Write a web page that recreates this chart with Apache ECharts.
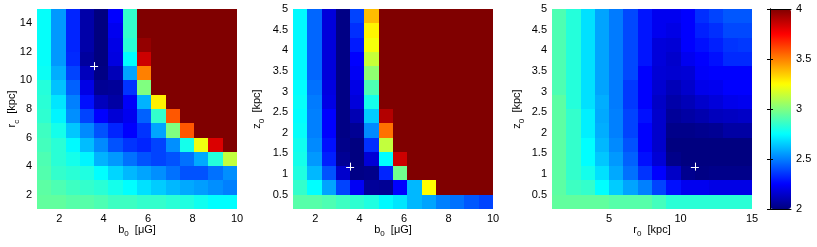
<!DOCTYPE html>
<html><head><meta charset="utf-8">
<script src="https://cdn.jsdelivr.net/npm/echarts@6/dist/echarts.min.js"></script>
<style>html,body{margin:0;padding:0;background:#fff}#c{width:817px;height:247px}</style>
</head><body><div id="c"></div>
<script>
// ---- cell centres (grid parameters) ----
const b0Centers = [1.321429, 1.964286, 2.607143, 3.250000, 3.892857, 4.535714, 5.178571, 5.821429, 6.464286, 7.107143, 7.750000, 8.392857, 9.035714, 9.678571];
const r0Centers = [1.5, 2.5, 3.5, 4.5, 5.5, 6.5, 7.5, 8.5, 9.5, 10.5, 11.5, 12.5, 13.5, 14.5];
// rows listed top to bottom
const rcCenters = [14.5, 13.5, 12.5, 11.5, 10.5, 9.5, 8.5, 7.5, 6.5, 5.5, 4.5, 3.5, 2.5, 1.5];
const z0Centers = [4.826923, 4.480769, 4.134615, 3.788462, 3.442308, 3.096154, 2.750000, 2.403846, 2.057692, 1.711538, 1.365385, 1.019231, 0.673077, 0.326923];

// ---- tick labels ----
const b0Ticks = [2, 4, 6, 8, 10];
const rcTicks = [2, 4, 6, 8, 10, 12, 14];
const z0Ticks = [0.5, 1, 1.5, 2, 2.5, 3, 3.5, 4, 4.5, 5];
const r0Ticks = [5, 10, 15];
const cbarTicks = [2, 2.5, 3, 3.5, 4];

// ---- values (rows top to bottom, columns left to right) ----
const valsB0Rc = [
  [2.76, 2.55, 2.32, 2.08, 2.00, 2.25, 2.85, 4, 4, 4, 4, 4, 4, 4],
  [2.76, 2.55, 2.32, 2.08, 2.00, 2.22, 2.85, 4, 4, 4, 4, 4, 4, 4],
  [2.76, 2.55, 2.32, 2.08, 2.00, 2.20, 2.83, 3.96, 4, 4, 4, 4, 4, 4],
  [2.76, 2.55, 2.33, 2.06, 2.00, 2.19, 2.75, 3.85, 4, 4, 4, 4, 4, 4],
  [2.77, 2.59, 2.38, 2.12, 2.01, 2.11, 2.57, 3.50, 4, 4, 4, 4, 4, 4],
  [2.82, 2.63, 2.44, 2.20, 2.04, 2.05, 2.35, 3.00, 4, 4, 4, 4, 4, 4],
  [2.83, 2.70, 2.50, 2.28, 2.12, 2.07, 2.24, 2.60, 3.28, 4, 4, 4, 4, 4],
  [2.84, 2.73, 2.53, 2.38, 2.25, 2.17, 2.22, 2.44, 2.85, 3.58, 4, 4, 4, 4],
  [2.87, 2.79, 2.64, 2.52, 2.41, 2.32, 2.25, 2.35, 2.57, 3.00, 3.58, 4, 4, 4],
  [2.88, 2.83, 2.74, 2.62, 2.52, 2.41, 2.35, 2.32, 2.38, 2.53, 2.79, 3.22, 3.82, 4],
  [2.90, 2.83, 2.79, 2.73, 2.60, 2.55, 2.47, 2.41, 2.38, 2.41, 2.47, 2.58, 2.82, 3.13],
  [2.91, 2.85, 2.83, 2.81, 2.75, 2.67, 2.61, 2.57, 2.53, 2.47, 2.41, 2.41, 2.47, 2.53],
  [2.93, 2.90, 2.87, 2.85, 2.83, 2.79, 2.75, 2.69, 2.65, 2.61, 2.58, 2.56, 2.53, 2.50],
  [2.94, 2.94, 2.92, 2.92, 2.90, 2.87, 2.87, 2.85, 2.85, 2.83, 2.81, 2.78, 2.75, 2.75]
];
const valsB0Z0 = [
  [2.74, 2.45, 2.18, 2.01, 2.38, 3.38, 4, 4, 4, 4, 4, 4, 4, 4],
  [2.74, 2.45, 2.18, 2.01, 2.34, 3.27, 4, 4, 4, 4, 4, 4, 4, 4],
  [2.74, 2.45, 2.18, 2.01, 2.30, 3.23, 4, 4, 4, 4, 4, 4, 4, 4],
  [2.74, 2.45, 2.18, 2.01, 2.25, 3.14, 4, 4, 4, 4, 4, 4, 4, 4],
  [2.74, 2.45, 2.18, 2.01, 2.23, 3.03, 4, 4, 4, 4, 4, 4, 4, 4],
  [2.75, 2.47, 2.19, 2.01, 2.20, 2.90, 4, 4, 4, 4, 4, 4, 4, 4],
  [2.76, 2.49, 2.20, 2.01, 2.18, 2.79, 4, 4, 4, 4, 4, 4, 4, 4],
  [2.75, 2.50, 2.25, 2.01, 2.10, 2.65, 3.90, 4, 4, 4, 4, 4, 4, 4],
  [2.76, 2.50, 2.25, 2.01, 2.04, 2.52, 3.53, 4, 4, 4, 4, 4, 4, 4],
  [2.78, 2.52, 2.28, 2.02, 2.00, 2.34, 3.13, 4, 4, 4, 4, 4, 4, 4],
  [2.79, 2.55, 2.31, 2.04, 2.00, 2.17, 2.75, 3.85, 4, 4, 4, 4, 4, 4],
  [2.81, 2.61, 2.41, 2.15, 2.01, 2.02, 2.32, 2.97, 4, 4, 4, 4, 4, 4],
  [2.85, 2.75, 2.57, 2.38, 2.23, 2.05, 2.04, 2.25, 2.61, 3.25, 4, 4, 4, 4],
  [2.92, 2.92, 2.90, 2.87, 2.84, 2.81, 2.74, 2.70, 2.61, 2.57, 2.50, 2.47, 2.42, 2.38]
];
const valsR0Z0 = [
  [2.90, 2.82, 2.69, 2.57, 2.49, 2.39, 2.29, 2.22, 2.22, 2.25, 2.34, 2.38, 2.42, 2.42],
  [2.90, 2.82, 2.69, 2.57, 2.49, 2.39, 2.29, 2.22, 2.20, 2.25, 2.31, 2.34, 2.39, 2.39],
  [2.90, 2.82, 2.69, 2.57, 2.49, 2.39, 2.29, 2.18, 2.17, 2.25, 2.28, 2.31, 2.35, 2.36],
  [2.90, 2.82, 2.69, 2.57, 2.49, 2.39, 2.29, 2.18, 2.15, 2.22, 2.25, 2.28, 2.33, 2.33],
  [2.90, 2.82, 2.69, 2.57, 2.49, 2.39, 2.25, 2.17, 2.16, 2.17, 2.24, 2.25, 2.25, 2.25],
  [2.90, 2.82, 2.69, 2.57, 2.49, 2.36, 2.25, 2.16, 2.11, 2.15, 2.21, 2.22, 2.25, 2.25],
  [2.93, 2.82, 2.69, 2.59, 2.49, 2.36, 2.25, 2.14, 2.08, 2.11, 2.15, 2.18, 2.21, 2.22],
  [2.93, 2.85, 2.72, 2.58, 2.50, 2.38, 2.28, 2.15, 2.05, 2.07, 2.09, 2.12, 2.13, 2.14],
  [2.93, 2.85, 2.72, 2.59, 2.50, 2.38, 2.25, 2.15, 2.02, 2.02, 2.03, 2.04, 2.07, 2.07],
  [2.93, 2.85, 2.75, 2.61, 2.52, 2.41, 2.25, 2.15, 2.00, 2.00, 2.00, 2.00, 2.00, 2.00],
  [2.93, 2.85, 2.75, 2.64, 2.55, 2.44, 2.28, 2.17, 2.02, 2.00, 2.00, 2.00, 2.00, 2.00],
  [2.93, 2.85, 2.79, 2.69, 2.58, 2.47, 2.35, 2.25, 2.14, 2.03, 2.01, 2.02, 2.02, 2.02],
  [2.93, 2.87, 2.85, 2.75, 2.65, 2.57, 2.50, 2.38, 2.28, 2.22, 2.22, 2.20, 2.20, 2.20],
  [2.94, 2.94, 2.94, 2.94, 2.92, 2.92, 2.92, 2.88, 2.83, 2.83, 2.83, 2.83, 2.83, 2.83]
];

// ---- best-fit markers ----
const bestB0Rc = [3.57, 11.0];
const bestB0Z0 = [3.57, 1.18];
const bestR0Z0 = [11.0, 1.18];

// ---- helpers ----
function toCells(xs, ys, vals) {
  const out = [];
  for (let r = 0; r < ys.length; r++)
    for (let c = 0; c < xs.length; c++) out.push([xs[c], ys[r], vals[r][c]]);
  return out;
}
function stepOf(arr) { return Math.abs(arr[1] - arr[0]); }
function cellRender(dx, dy) {
  return function (params, api) {
    const x = api.value(0), y = api.value(1);
    const a = api.coord([x - dx / 2, y + dy / 2]);
    const b = api.coord([x + dx / 2, y - dy / 2]);
    const x0 = Math.round(a[0] + 1e-6), y0 = Math.round(a[1] + 1e-6);
    const x1 = Math.round(b[0] + 1e-6), y1 = Math.round(b[1] + 1e-6);
    return { type: 'rect', shape: { x: x0, y: y0, width: x1 - x0, height: y1 - y0 },
      style: { fill: api.visual('color') } };
  };
}
function plusRender(params, api) {
  const p = api.coord([api.value(0), api.value(1)]);
  const h = 4;
  const st = { stroke: '#ffffff', lineWidth: 1 };
  return { type: 'group', children: [
    { type: 'line', shape: { x1: p[0] - h, y1: Math.round(p[1]) + 0.5, x2: p[0] + h, y2: Math.round(p[1]) + 0.5 }, style: st },
    { type: 'line', shape: { x1: Math.round(p[0]) + 0.5, y1: p[1] - h, x2: Math.round(p[0]) + 0.5, y2: p[1] + h }, style: st }
  ] };
}

const FONT = 'Liberation Sans';
const rich = {
  n: { fontFamily: FONT, fontSize: 11, color: '#000', lineHeight: 11, verticalAlign: 'top' },
  s: { fontFamily: FONT, fontSize: 8, color: '#000', lineHeight: 14, verticalAlign: 'bottom' }
};
function lab(ticks) {
  return { customValues: ticks, fontFamily: FONT, fontSize: 11, color: '#000', margin: 4 };
}
function xAx(grid, min, max, ticks, name) {
  return { gridIndex: grid, type: 'value', min: min, max: max, axisLabel: lab(ticks),
    axisTick: { show: false }, axisLine: { show: false }, splitLine: { show: false },
    name: name, nameLocation: 'middle', nameGap: 15, nameMoveOverlap: false,
    nameTextStyle: { rich: rich } };
}
function yAx(grid, min, max, ticks, name, gap) {
  const l = lab(ticks); l.margin = 5;
  return { gridIndex: grid, type: 'value', min: min, max: max, axisLabel: l,
    axisTick: { show: false }, axisLine: { show: false }, splitLine: { show: false },
    name: name, nameLocation: 'middle', nameGap: gap, nameMoveOverlap: false,
    nameTextStyle: { rich: rich } };
}
const frameAxis = { show: true, lineStyle: { color: '#000', width: 1 } };

const zMin = 0.153846, zMax = 5;
const jet = ['#000080', '#0000ff', '#0080ff', '#00ffff', '#80ff80', '#ffff00', '#ff8000', '#ff0000', '#800000'];

const option = {
  animation: false,
  backgroundColor: '#fff',
  grid: [
    { left: 37, top: 9, width: 200, height: 200 },
    { left: 293, top: 9, width: 200, height: 200 },
    { left: 552, top: 9, width: 200, height: 200 },
    { left: 770, top: 9, width: 21, height: 200 }
  ],
  xAxis: [
    xAx(0, 1, 10, b0Ticks, '{n|b}{s|0}{n|  [μG]}'),
    xAx(1, 1, 10, b0Ticks, '{n|b}{s|0}{n|  [μG]}'),
    xAx(2, 1, 15, r0Ticks, '{n|r}{s|0}{n|  [kpc]}'),
    { gridIndex: 3, type: 'value', position: 'bottom', min: 0, max: 1, z: 10,
      axisLine: frameAxis, axisTick: { show: false }, axisLabel: { show: false }, splitLine: { show: false } },
    { gridIndex: 3, type: 'value', position: 'top', min: 0, max: 1, z: 10,
      axisLine: frameAxis, axisTick: { show: false }, axisLabel: { show: false }, splitLine: { show: false } }
  ],
  yAxis: [
    yAx(0, 1, 15, rcTicks, '{n|r}{s|c}{n|  [kpc]}', 16.5),
    yAx(1, zMin, zMax, z0Ticks, '{n|z}{s|0}{n|  [kpc]}', 27.5),
    yAx(2, zMin, zMax, z0Ticks, '{n|z}{s|0}{n|  [kpc]}', 26.5),
    { gridIndex: 3, type: 'value', position: 'right', min: 2, max: 4, interval: 0.5, z: 10,
      axisLabel: { customValues: cbarTicks, fontFamily: FONT, fontSize: 11, color: '#000', margin: 5 },
      axisTick: { show: true, inside: true, length: 3, customValues: cbarTicks, lineStyle: { color: '#000' } },
      axisLine: frameAxis, splitLine: { show: false } },
    { gridIndex: 3, type: 'value', position: 'left', min: 2, max: 4, interval: 0.5, z: 10,
      axisLabel: { show: false },
      axisTick: { show: true, inside: true, length: 3, lineStyle: { color: '#000' } },
      axisLine: frameAxis, splitLine: { show: false } }
  ],
  visualMap: {
    type: 'continuous', min: 2, max: 4, dimension: 2, seriesIndex: [0, 1, 2],
    inRange: { color: jet }, left: 770, top: 9, itemWidth: 21, itemHeight: 200,
    padding: 0, calculable: false, hoverLink: false, orient: 'vertical'
  },
  series: [
    { type: 'custom', xAxisIndex: 0, yAxisIndex: 0, data: toCells(b0Centers, rcCenters, valsB0Rc),
      renderItem: cellRender(stepOf(b0Centers), stepOf(rcCenters)), silent: true },
    { type: 'custom', xAxisIndex: 1, yAxisIndex: 1, data: toCells(b0Centers, z0Centers, valsB0Z0),
      renderItem: cellRender(stepOf(b0Centers), stepOf(z0Centers)), silent: true },
    { type: 'custom', xAxisIndex: 2, yAxisIndex: 2, data: toCells(r0Centers, z0Centers, valsR0Z0),
      renderItem: cellRender(stepOf(r0Centers), stepOf(z0Centers)), silent: true },
    { type: 'custom', xAxisIndex: 0, yAxisIndex: 0, data: [bestB0Rc], renderItem: plusRender, z: 5, silent: true },
    { type: 'custom', xAxisIndex: 1, yAxisIndex: 1, data: [bestB0Z0], renderItem: plusRender, z: 5, silent: true },
    { type: 'custom', xAxisIndex: 2, yAxisIndex: 2, data: [bestR0Z0], renderItem: plusRender, z: 5, silent: true }
  ]
};
const chart = echarts.init(document.getElementById('c'));
chart.setOption(option);
</script></body></html>
